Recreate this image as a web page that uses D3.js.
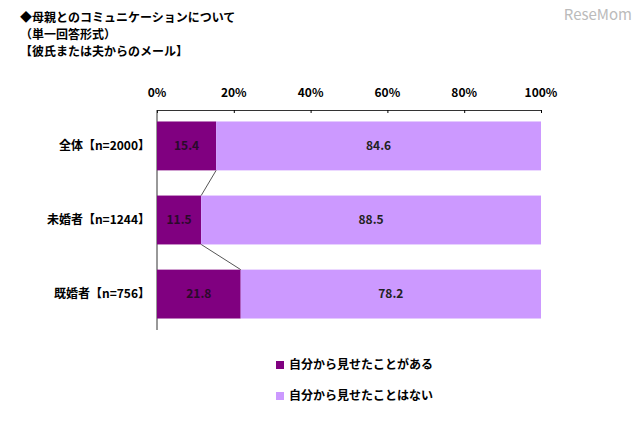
<!DOCTYPE html>
<html><head><meta charset="utf-8">
<script src="https://cdn.jsdelivr.net/npm/d3@7"></script>
<style>body{margin:0;background:#fff}text{font-family:"Noto Sans CJK JP",sans-serif}</style>
</head><body><svg id="c" width="640" height="428"></svg>
<script>
const categories = ["全体【n=2000】", "未婚者【n=1244】", "既婚者【n=756】"];
const shown = [15.4, 11.5, 21.8];
const notShown = [84.6, 88.5, 78.2];
const seriesNames = ["自分から見せたことがある", "自分から見せたことはない"];
const tickValues = [0, 20, 40, 60, 80, 100];
const colors = ["#800080", "#cc99ff"];

const svg = d3.select("#c");
const x = d3.scaleLinear().domain([0, 100]).range([157, 541]);
const y = d3.scaleBand().domain(categories).range([110, 330]).paddingInner(0.34).paddingOuter(0.155);

// title
const title = ["◆母親とのコミュニケーションについて", "（単一回答形式）", "【彼氏または夫からのメール】"];
svg.selectAll(".t").data(title).enter().append("text")
  .attr("x", 20).attr("y", (d, i) => 22 + i * 17)
  .attr("font-size", 12).attr("font-weight", "bold").text(d => d);
svg.append("text").attr("x", 632).attr("y", 20).attr("text-anchor", "end")
  .attr("font-size", 15).attr("fill", "#bbb").attr("font-family", "DejaVu Sans").text("ReseMom");

// axis
const ax = svg.append("g").attr("transform", "translate(0,110)")
  .call(d3.axisBottom(x).tickValues(tickValues).tickSize(3).tickFormat(() => ""));
ax.select(".domain").attr("stroke", "#333");
svg.selectAll(".tl").data(tickValues).enter().append("text")
  .attr("x", d => x(d)).attr("y", 97).attr("text-anchor", "middle")
  .attr("font-size", 12).attr("font-weight", "bold").text(d => d + "%");
svg.append("line").attr("x1", x(0)).attr("x2", x(0)).attr("y1", 110).attr("y2", 330).attr("stroke", "#333");

// bars
const rows = categories.map((c, i) => ({c, vals: [shown[i], notShown[i]]}));
rows.forEach(r => {
  let acc = 0;
  r.vals.forEach((v, j) => {
    svg.append("rect").attr("x", x(acc)).attr("y", y(r.c)).attr("width", x(acc + v) - x(acc))
      .attr("height", y.bandwidth()).attr("fill", colors[j]);
    svg.append("text").attr("x", (x(acc) + x(acc + v)) / 2).attr("y", y(r.c) + y.bandwidth() / 2 + 4)
      .attr("text-anchor", "middle").attr("font-size", 12).attr("font-weight", "bold")
      .attr("fill", j === 0 ? "#2a0a2a" : "#222").text(v.toFixed(1));
    acc += v;
  });
  svg.append("text").attr("x", 150).attr("y", y(r.c) + y.bandwidth() / 2 + 4)
    .attr("text-anchor", "end").attr("font-size", 12).attr("font-weight", "bold").text(r.c);
});
// series lines
for (let i = 0; i < categories.length - 1; i++) {
  svg.append("line").attr("x1", x(shown[i])).attr("y1", y(categories[i]) + y.bandwidth())
    .attr("x2", x(shown[i + 1])).attr("y2", y(categories[i + 1])).attr("stroke", "#555");
}

// legend
seriesNames.forEach((s, i) => {
  svg.append("rect").attr("x", 276).attr("y", 361 + i * 31).attr("width", 8).attr("height", 8).attr("fill", colors[i]);
  svg.append("text").attr("x", 289).attr("y", 369 + i * 31).attr("font-size", 12).attr("font-weight", "bold").text(s);
});
</script></body></html>
